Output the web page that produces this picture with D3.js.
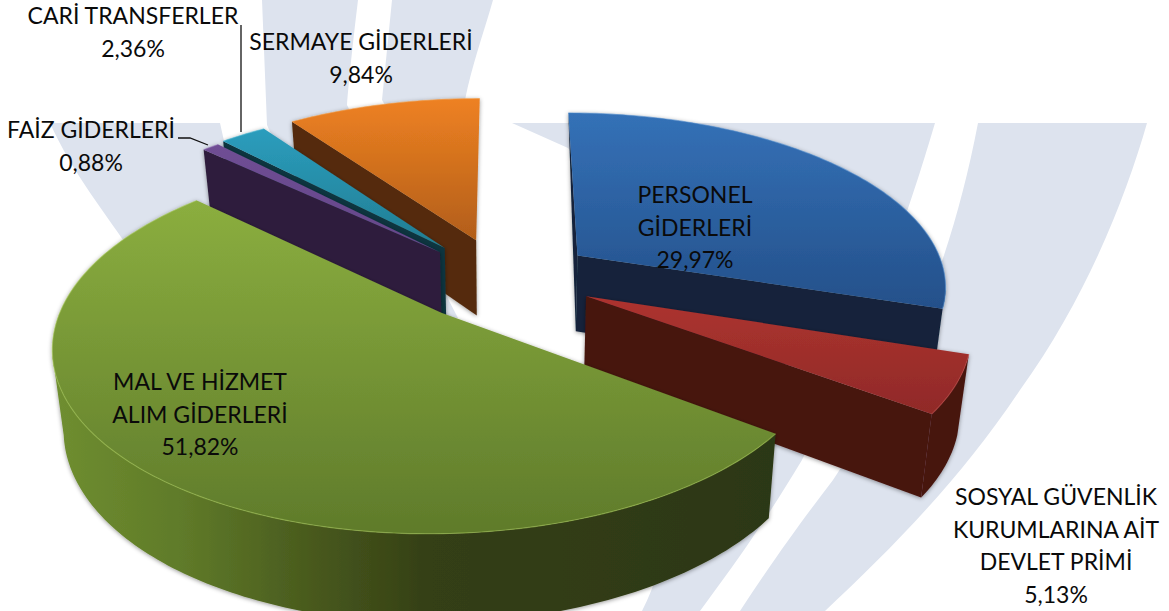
<!DOCTYPE html>
<html>
<head>
<meta charset="utf-8">
<script src="https://cdn.jsdelivr.net/npm/d3@7"></script>
<style>
    html, body { margin: 0; padding: 0; background: #fff; overflow: hidden; }
    text { font-family: Lato, "Open Sans", sans-serif; font-size: 23px; fill: #0a0a0a; }
</style>
</head>
<body>
<div class="pie3d"></div>
<script>
// Data
const categories = [
    ["PERSONEL", "GİDERLERİ"],
    ["SOSYAL GÜVENLİK", "KURUMLARINA AİT", "DEVLET PRİMİ"],
    ["MAL VE HİZMET", "ALIM GİDERLERİ"],
    ["FAİZ GİDERLERİ"],
    ["CARİ TRANSFERLER"],
    ["SERMAYE GİDERLERİ"]
]
const shares = [29.97, 5.13, 51.82, 0.88, 2.36, 9.84]
const shareLabels = ["29,97%", "5,13%", "51,82%", "0,88%", "2,36%", "9,84%"]

// Slice styles
const topLight = ["#3471b7", "#ad332f", "#8bae3f", "#6f4e94", "#2b9dbd", "#ee8122"]
const topDark = ["#24508a", "#902a28", "#5f7b2b", "#654689", "#217d92", "#b25e19"]
const wallColor = ["#12243b", "#47140f", "url(#greenWall)", "#2e1f3c", "#10353f", "#552c0c"]
const rimLight = ["#4a86c8", "#c24a45", "#a3c454", "#8a68ae", "#48b4d0", "#f39a45"]
const sliceOffset = [0.224, 0.224, 0.25, 0.25, 0.26, 0.235]
const sliceRadius = [0.985, 0.99, 0.985, 1.01, 1.01, 1.01]
const shiftX = [3, 2, -5, -3, -3, -6]
const shiftY = [0, 0, 0, 4, 4, 0]

// Label anchors (x center, y of first baseline)
const labelX = [695, 1056, 200, 91, 133, 361]
const labelY = [203, 505, 390, 138, 24, 50]

const width = 1169
const height = 611
const center = { x: 508, y: 278 }
const radiusX = 375
const radiusY = 175
const perspective = 0.165
const depth = 77
const bottomShrink = 0.975
const lineGap = 32.6

const xScale = d3.scaleLinear().domain([-1, 1]).range([center.x - radiusX, center.x + radiusX])
const yScale = d3.scaleLinear().domain([-1, 1]).range([center.y + radiusY, center.y - radiusY])

// u, v on the pie plane (v goes away from the viewer)
function project(u, v, lower) {
    const w = 1 + perspective * v
    if (!lower) return [xScale(u / w), yScale(v / w)]
    return [xScale(bottomShrink * u / w), yScale(bottomShrink * v / w) + depth / w]
}

const pie = d3.pie().sort(null).value(d => d).startAngle(0).endAngle(2 * Math.PI)
const slices = pie(shares).map((d, i) => {
    const mid = (d.startAngle + d.endAngle) / 2
    return {
        i: i,
        a0: d.startAngle,
        a1: d.endAngle,
        r: sliceRadius[i],
        ou: sliceOffset[i] * Math.sin(mid),
        ov: sliceOffset[i] * Math.cos(mid)
    }
})

function rim(s, a) {
    return [s.ou + s.r * Math.sin(a), s.ov + s.r * Math.cos(a)]
}

function arcAngles(s) {
    return d3.range(s.a0, s.a1, Math.PI / 180).concat([s.a1])
}

const path = d3.line()

const svg = d3.select(".pie3d")
    .append("svg")
    .attr("width", width)
    .attr("height", height)
    .style("display", "block")

const defs = svg.append("defs")

// Gradients for the top faces
slices.forEach(s => {
    const g = defs.append("linearGradient")
        .attr("id", "top" + s.i)
        .attr("x1", 0).attr("y1", 0).attr("x2", 0).attr("y2", 1)
    g.append("stop").attr("offset", "0%").attr("stop-color", topLight[s.i])
    g.append("stop").attr("offset", "100%").attr("stop-color", topDark[s.i])
})

// Green rim gets lighter to the left
const greenWall = defs.append("linearGradient")
    .attr("id", "greenWall")
    .attr("gradientUnits", "userSpaceOnUse")
    .attr("x1", 60).attr("y1", 0).attr("x2", 780).attr("y2", 0)
greenWall.selectAll("stop")
    .data([["0%", "#6f8e30"], ["18%", "#5f7a29"], ["36%", "#48591d"], ["52%", "#343f15"], ["100%", "#2c3712"]])
    .join("stop")
    .attr("offset", d => d[0])
    .attr("stop-color", d => d[1])

const shadow = defs.append("filter")
    .attr("id", "shadow")
    .attr("x", "-10%").attr("y", "-10%").attr("width", "120%").attr("height", "120%")
shadow.append("feDropShadow")
    .attr("dx", 0).attr("dy", 1)
    .attr("stdDeviation", 2.2)
    .attr("flood-color", "#000")
    .attr("flood-opacity", 0.4)

// Watermark behind the chart
const watermark = [
    "M50,123 L220,123 L226,150 L300,300 L160,300 C130,240 80,190 50,123 Z",
    "M262,0 L358,0 C352,50 349,80 347,105 L458,318 L447,318 L300,200 L267,125 Z",
    "M392,0 L493,0 C483,35 472,65 465,100 L440,200 L382,100 Z",
    "M512,123 L935,123 C915,190 885,290 802,460 C760,530 730,570 700,611 L642,611 C690,520 700,300 568,148 Z",
    "M978,123 L1147,123 C1125,200 1085,300 1020,390 C960,480 890,550 825,611 L740,611 C780,550 810,510 833,480 C900,380 950,270 978,123 Z"
]
svg.append("g")
    .selectAll("path")
    .data(watermark)
    .join("path")
    .attr("d", d => d)
    .attr("fill", "#dde3ee")

// Back slices first, green goes on top of everything
const drawOrder = [0, 5, 4, 3, 1, 2]
const groups = svg.append("g")
    .selectAll("g")
    .data(drawOrder.map(i => slices[i]))
    .join("g")
    .attr("transform", d => `translate(${shiftX[d.i]}, ${shiftY[d.i]})`)
    .attr("filter", "url(#shadow)")

groups.each(function (s) {
    const g = d3.select(this)
    const apex = project(s.ou, s.ov)
    const apexLow = project(s.ou, s.ov, true)

    // flat cut faces, only the ones turned to the viewer
    const start = rim(s, s.a0)
    const end = rim(s, s.a1)
    const pStart = project(start[0], start[1])
    const pEnd = project(end[0], end[1])
    const cutColor = s.i === 2 ? "#2c3712" : wallColor[s.i]
    if (pStart[0] < apex[0] - 20) {
        g.append("path")
            .attr("d", path([apex, pStart, project(start[0], start[1], true), apexLow]) + "Z")
            .attr("fill", cutColor)
    } else if (pStart[0] < apex[0]) {
        // nearly edge on, just a sliver
        g.append("path")
            .attr("d", path([apex, pStart, apexLow]) + "Z")
            .attr("fill", cutColor)
    }
    if (pEnd[0] > apex[0] + 20) {
        g.append("path")
            .attr("d", path([apex, pEnd, project(end[0], end[1], true), apexLow]) + "Z")
            .attr("fill", cutColor)
    }

    // outer wall, just the part of the rim that runs right to left on screen
    const angles = arcAngles(s)
    const front = angles.filter((a, n) => {
        if (n === angles.length - 1) return project(...rim(s, angles[n - 1]))[0] > project(...rim(s, a))[0]
        return project(...rim(s, a))[0] > project(...rim(s, angles[n + 1]))[0]
    })
    if (front.length > 1) {
        const upper = front.map(a => project(...rim(s, a)))
        const lower = front.map(a => project(...rim(s, a), true)).reverse()
        g.append("path")
            .attr("d", path(upper.concat(lower)) + "Z")
            .attr("fill", wallColor[s.i])
    }

    // top face
    const outline = angles.map(a => project(...rim(s, a)))
    g.append("path")
        .attr("d", path([apex].concat(outline)) + "Z")
        .attr("fill", `url(#top${s.i})`)

    // soft light along the rim
    g.append("path")
        .attr("d", path(outline))
        .attr("fill", "none")
        .attr("stroke", rimLight[s.i])
        .attr("stroke-width", 1.2)
        .attr("stroke-opacity", 0.55)
})

// Leader lines
const leaders = [
    [[241, 25], [241, 132]],
    [[178, 138], [190, 138], [208, 145]]
]
svg.append("g")
    .selectAll("path")
    .data(leaders)
    .join("path")
    .attr("d", d => path(d))
    .attr("fill", "none")
    .attr("stroke", "#111")
    .attr("stroke-width", 1.3)

// Labels
const labels = svg.append("g")
    .selectAll("text")
    .data(categories.map((c, i) => c.concat([shareLabels[i]])))
    .join("text")
    .attr("text-anchor", "middle")
    .attr("y", (d, i) => labelY[i])

labels.selectAll("tspan")
    .data((d, i) => d.map((t, n) => ({ t: t, x: labelX[i], n: n })))
    .join("tspan")
    .attr("x", d => d.x)
    .attr("dy", d => d.n === 0 ? 0 : lineGap)
    .text(d => d.t)
</script>
</body>
</html>
